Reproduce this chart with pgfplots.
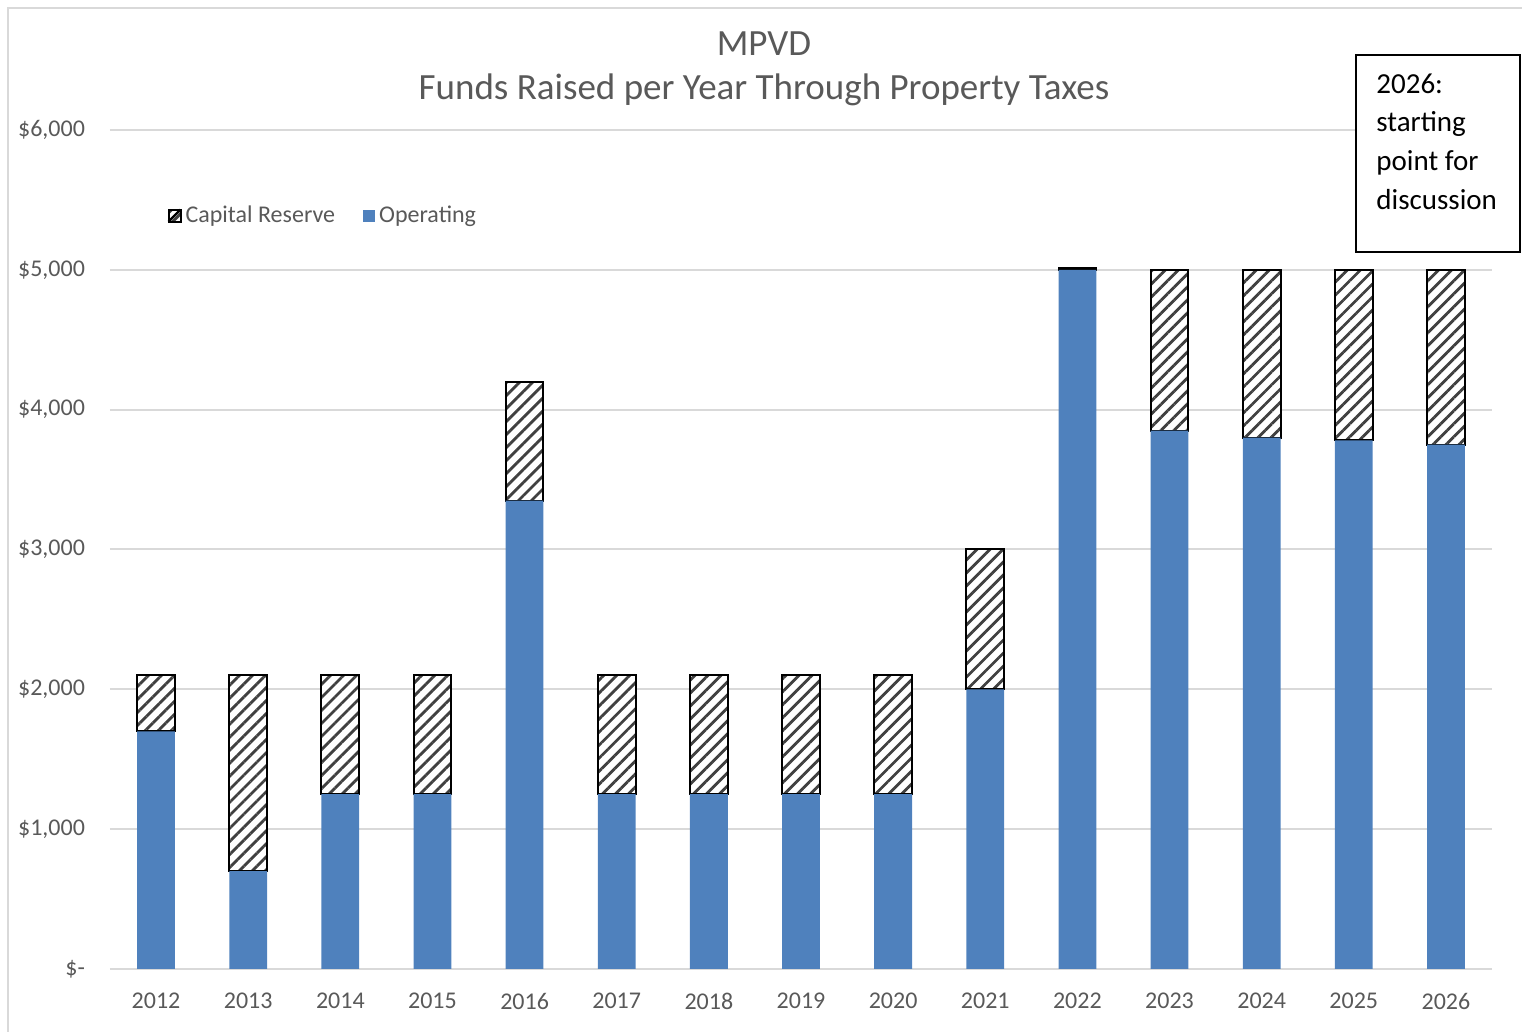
\documentclass[border=0pt]{standalone}
\usepackage{pgfplots}
\pgfplotsset{compat=1.18}
\usepackage{fontspec}
\setmainfont{Carlito}
\usetikzlibrary{patterns.meta}
\definecolor{opblue}{RGB}{79,129,189}
\definecolor{txtgray}{RGB}{89,89,89}
\definecolor{gridgray}{RGB}{217,217,217}
\begin{document}
\begin{tikzpicture}[x=0.5pt,y=0.5pt]
\useasboundingbox (0,0) rectangle (1522,1032);
\draw[gridgray, line width=1pt] (8,0) -- (8,1024) -- (1522,1024);
\begin{axis}[
  at={(55pt,31.5pt)}, anchor=south west,
  scale only axis, width=691pt, height=419.5pt,
  xmin=-0.5, xmax=14.5, ymin=0, ymax=6000,
  ybar stacked, bar width=0.41,
  xtick={0,...,14},
  xticklabels={2012,2013,2014,2015,2016,2017,2018,2019,2020,2021,2022,2023,2024,2025,2026},
  ytick={0,1000,2000,3000,4000,5000,6000},
  yticklabels={{\$-},{\$1,000},{\$2,000},{\$3,000},{\$4,000},{\$5,000},{\$6,000}},
  ymajorgrids, grid style={gridgray, line width=1pt},
  axis x line*=bottom, axis y line*=left,
  x axis line style={gridgray, line width=1pt, -},
  y axis line style={draw=none},
  major tick length=0pt,
  tick label style={font=\fontsize{12}{14}\selectfont, text=txtgray},
  /pgf/number format/assume math mode=true,
  xticklabel style={yshift=-8.5pt},
  yticklabel style={xshift=-9pt},
  legend style={at={(0.037,0.898)}, anchor=west, draw=none, fill=none,
    font=\fontsize{12}{14}\selectfont, text=txtgray,
    /tikz/every even column/.append style={column sep=12pt}},
  legend columns=2, legend cell align=left, reverse legend,
]
\addplot[fill=opblue, draw=none,
  legend image code/.code={\fill[opblue] (0pt,-3pt) rectangle (6pt,3pt);}]
  coordinates {(0,1700) (1,700) (2,1250) (3,1250) (4,3350) (5,1250) (6,1250) (7,1250) (8,1250) (9,2000) (10,5000) (11,3850) (12,3800) (13,3780) (14,3750)};
\addplot[fill=white, draw=black, line width=1pt,
  postaction={pattern={Lines[angle=45, distance=4.6pt, line width=1.4pt]}, pattern color=black!75},
  legend image code/.code={\draw[black, line width=1pt, fill=white] (0pt,-3pt) rectangle (6pt,3pt);
     \draw[black, line width=1pt] (0pt,-3pt) -- (6pt,3pt);}]
  coordinates {(0,400) (1,1400) (2,850) (3,850) (4,850) (5,850) (6,850) (7,850) (8,850) (9,1000) (10,10) (11,1150) (12,1200) (13,1220) (14,1250)};
\legend{Operating, Capital Reserve}
\end{axis}
\node[text=txtgray, font=\fontsize{18.5}{22}\selectfont] at (764,988) {MPVD};
\node[text=txtgray, font=\fontsize{18.5}{22}\selectfont] at (764,942) {Funds Raised per Year Through Property Taxes};
\draw[black, line width=0.75pt, fill=white] (1356,977) rectangle (1520,780);
\begin{scope}[every node/.style={anchor=base west, inner sep=0pt, font=\fontsize{14.5}{17}\selectfont}]
\node at (1376,938) {2026:};
\node at (1376,900) {starting};
\node at (1376,861) {point for};
\node at (1376,822) {discussion};
\end{scope}
\end{tikzpicture}
\end{document}
